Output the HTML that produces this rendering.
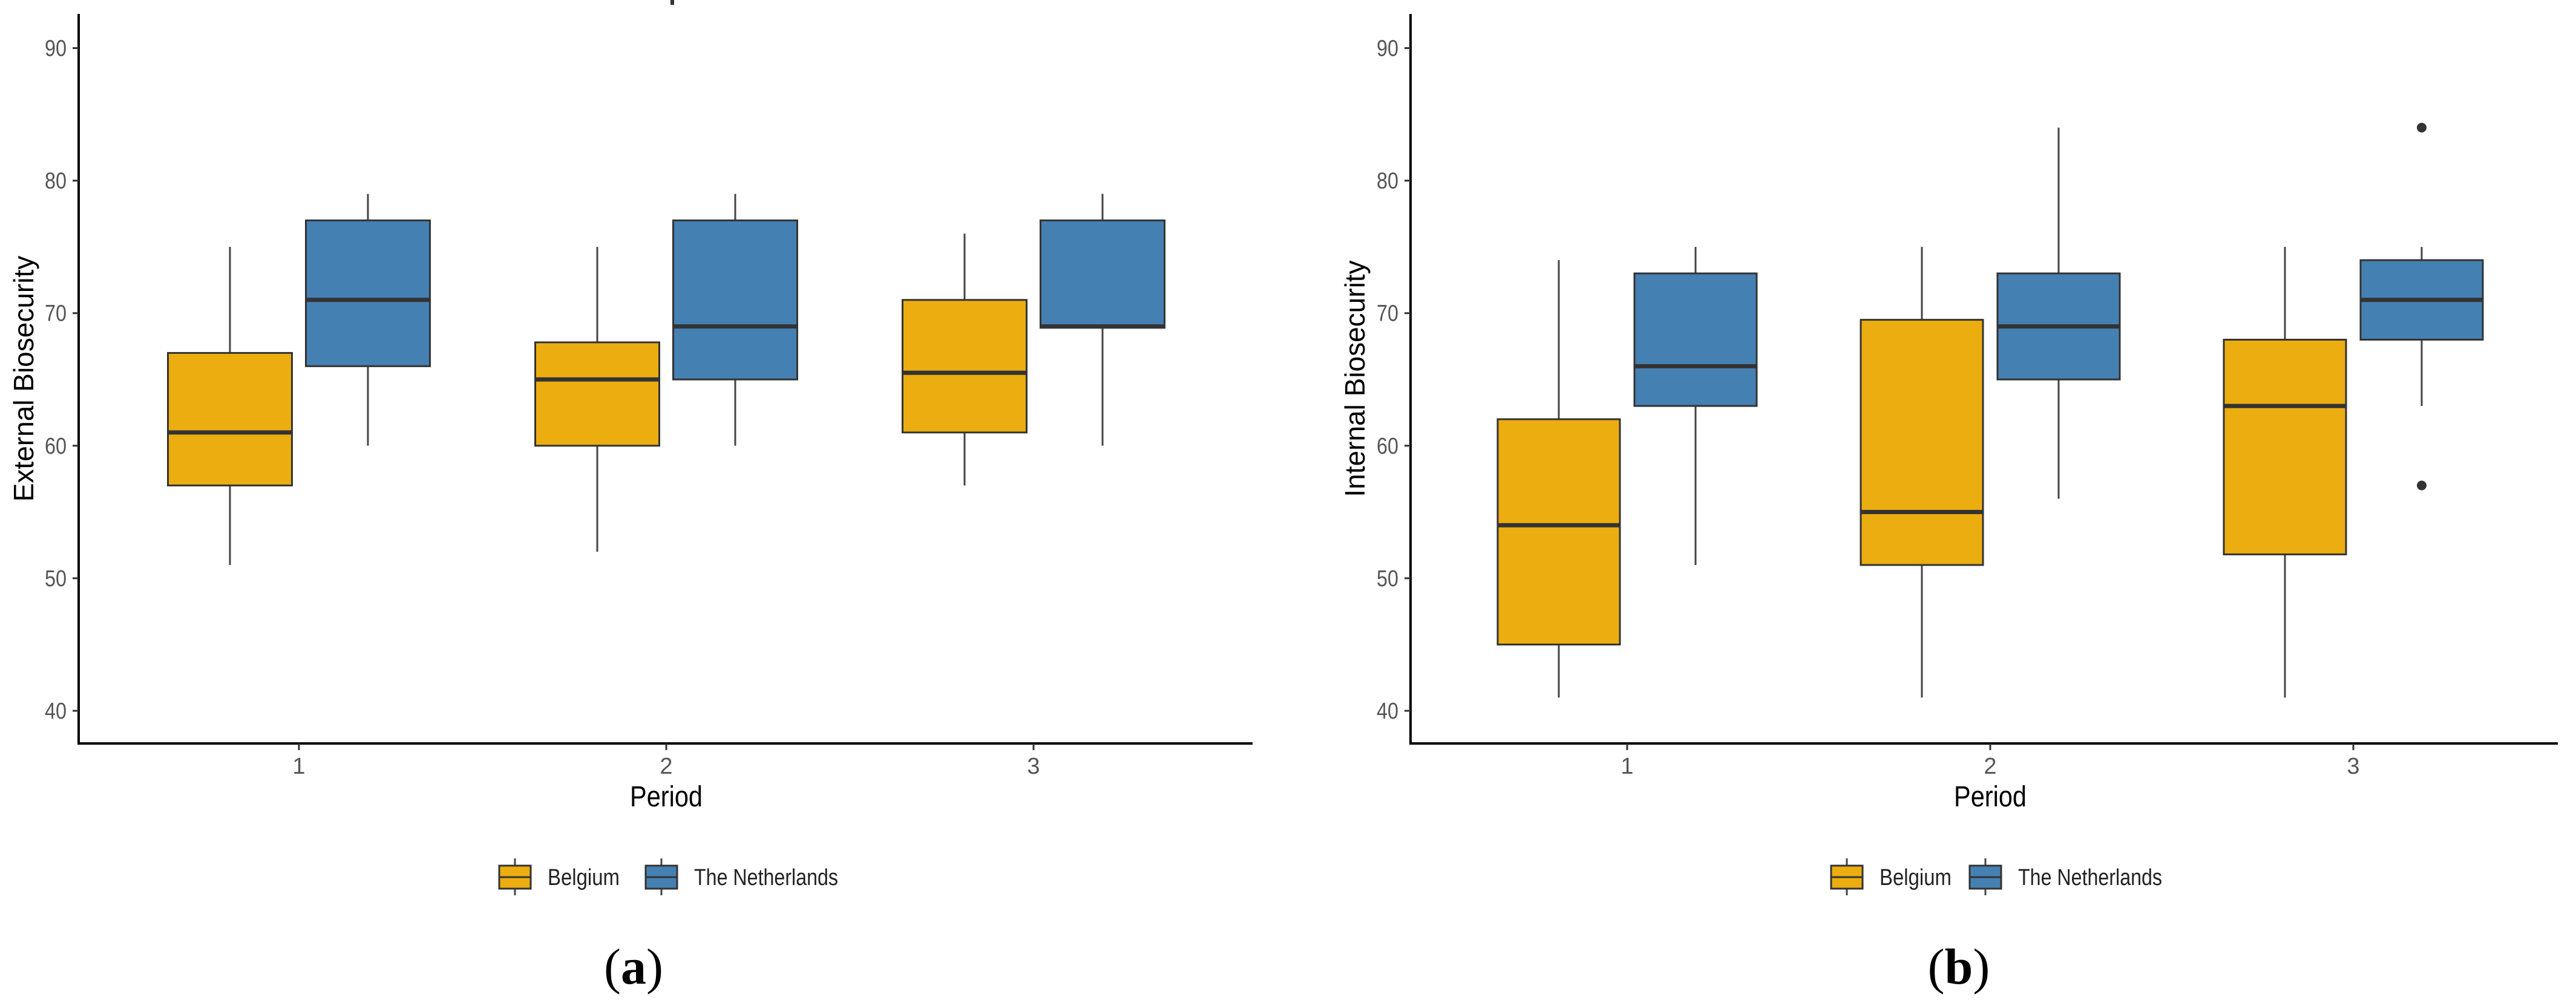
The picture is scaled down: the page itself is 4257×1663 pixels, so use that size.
<!DOCTYPE html>
<html><head><meta charset="utf-8"><style>
html,body{margin:0;padding:0;background:#fff;}
svg{display:block;}
text{font-family:"Liberation Sans Narrow","Liberation Sans",sans-serif;}
</style></head><body>
<svg id="fig" width="4257" height="1663" viewBox="0 0 4257 1663" xmlns="http://www.w3.org/2000/svg">
<rect x="1108" y="0" width="6" height="8" fill="#333"/>
</svg>
<script>
const periods = ["1","2","3"];
const yTicks = [40,50,60,70,80,90];
const groups = ["Belgium","The Netherlands"];
// External biosecurity [period] = [lowWhisker, q1, median, q3, highWhisker]
const extBelgium = [[51,57,61,67,75],[52,60,65,67.8,75],[57,61,65.5,71,76]];
const extNetherlands = [[60,66,71,77,79],[60,65,69,77,79],[60,68.9,69,77,79]];
const extOutliersNL = [[],[],[]];
// Internal biosecurity
const intBelgium = [[41,45,54,62,74],[41,51,55,69.5,75],[41,51.8,63,68,75]];
const intNetherlands = [[51,63,66,73,75],[56,65,69,73,84],[63,68,71,74,75]];
const intOutliersNL = [[],[],[84,57]];

const NS="http://www.w3.org/2000/svg";
const svg=document.getElementById('fig');
function mk(tag,attrs,parent){const e=document.createElementNS(NS,tag);for(const k in attrs)e.setAttribute(k,attrs[k]);(parent||svg).appendChild(e);return e;}
const colors={"Belgium":"#EBAD10","The Netherlands":"#4580B3"};
const legLen={"Belgium":119,"The Netherlands":238};

function panel(cfg){
  const g=mk('g',{});
  
  
  const y0=1175, y1=79.5;
  const yS=v=>y0+(v-40)*(y1-y0)/50;
  const xS=i=>cfg.x1+i*cfg.step;
  const ya=mk('line',{x1:cfg.ax,y1:23,x2:cfg.ax,y2:1230,stroke:'#000','stroke-width':4},g);
  
  
  const xa=mk('line',{x1:cfg.ax-2,y1:1229,x2:cfg.axEnd,y2:1229,stroke:'#000','stroke-width':4},g);
  
  
  yTicks.forEach(t=>{
    const tk=mk('line',{x1:cfg.ax-10,y1:yS(t),x2:cfg.ax,y2:yS(t),stroke:'#333','stroke-width':3},g);
    
    
    const tl=mk('text',{x:cfg.ax-20,y:yS(t)+13,'text-anchor':'end','font-size':38,fill:'#555',textLength:36,lengthAdjust:'spacingAndGlyphs'},g);
    tl.textContent=t;
    
    
  });
  periods.forEach((p,i)=>{
    const tk=mk('line',{x1:xS(i),y1:1229,x2:xS(i),y2:1240,stroke:'#333','stroke-width':3},g);
    
    
    const tl=mk('text',{x:xS(i),y:1279,'text-anchor':'middle','font-size':38,fill:'#555'},g);
    tl.textContent=p;
    
    
  });
  const series=[cfg.b,cfg.n];
  series.forEach((arr,gi)=>{
    arr.forEach((s,i)=>{
      const cx=xS(i)+(gi===0?-cfg.off:cfg.off), w=cfg.bw;
      const bg=mk('g',{},g);
      
      
      mk('line',{x1:cx,y1:yS(s[0]),x2:cx,y2:yS(s[1]),stroke:'#444','stroke-width':3},bg);
      mk('line',{x1:cx,y1:yS(s[3]),x2:cx,y2:yS(s[4]),stroke:'#444','stroke-width':3},bg);
      mk('rect',{x:cx-w/2,y:yS(s[3]),width:w,height:yS(s[1])-yS(s[3]),fill:colors[groups[gi]],stroke:'#333','stroke-width':3},bg);
      mk('line',{x1:cx-w/2,y1:yS(s[2]),x2:cx+w/2,y2:yS(s[2]),stroke:'#333','stroke-width':7},bg);
    });
  });
  cfg.out.forEach((o,i)=>{
    o.forEach(v=>{
      const c=mk('circle',{cx:xS(i)+cfg.off,cy:yS(v),r:8,fill:'#333'},g);
      
      
    });
  });
  const yt=mk('text',{x:0,y:0,'text-anchor':'middle','font-size':46,fill:'#000',transform:`translate(${cfg.ytx},626) rotate(-90)`,style:'font-family:"Liberation Sans",sans-serif'},g);
  yt.textContent=cfg.ytitle;
  
  
  const xt=mk('text',{x:xS(1),y:1333,'text-anchor':'middle','font-size':48,fill:'#000',textLength:120,lengthAdjust:'spacingAndGlyphs'},g);
  xt.textContent='Period';
  
  
  const lg=mk('g',{},g);
  
  
  groups.forEach((gname,gi)=>{
    const kx=cfg.leg[gi];
    const le=mk('g',{},lg);
    
    
    mk('line',{x1:kx+26,y1:1419,x2:kx+26,y2:1480,stroke:'#444','stroke-width':3},le);
    mk('rect',{x:kx,y:1431,width:52,height:38,fill:colors[gname],stroke:'#333','stroke-width':3},le);
    mk('line',{x1:kx,y1:1450,x2:kx+52,y2:1450,stroke:'#333','stroke-width':3},le);
    const t=mk('text',{x:kx+80,y:1463,'font-size':38,fill:'#222',textLength:legLen[gname],lengthAdjust:'spacingAndGlyphs'},le);
    t.textContent=gname;
  });
  const cap=mk('text',{x:cfg.capx,y:1626,'text-anchor':'middle','font-size':84,fill:'#000',style:'font-family:"Liberation Serif",serif'},g);
  cap.innerHTML='(<tspan font-weight="bold">'+cfg.cap+'</tspan>)';
  
  
}
panel({name:'panel-a-external',ax:130,axEnd:2070,x1:494,step:607,off:114,bw:205,b:extBelgium,n:extNetherlands,out:extOutliersNL,ytitle:'External Biosecurity',ytx:55,leg:[825,1067],capx:1047,cap:'a'});
panel({name:'panel-b-internal',ax:2331,axEnd:4227,x1:2689,step:600,off:113,bw:202,b:intBelgium,n:intNetherlands,out:intOutliersNL,ytitle:'Internal Biosecurity',ytx:2255,leg:[3026,3255],capx:3237,cap:'b'});
</script>
</body></html>
